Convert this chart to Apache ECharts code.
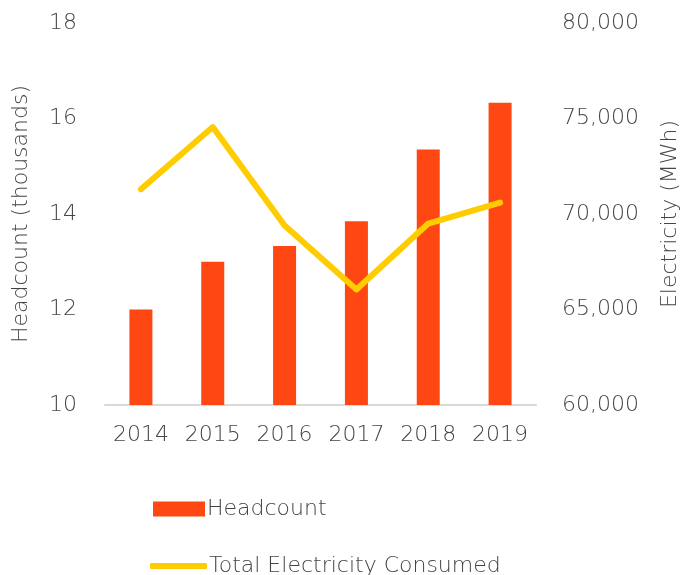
<!DOCTYPE html>
<html>
<head>
<meta charset="utf-8">
<script src="https://cdn.jsdelivr.net/npm/echarts@6/dist/echarts.min.js"></script>
<style>
  html, body { margin: 0; padding: 0; background: #fff; }
  #chart { width: 686px; height: 575px; }
</style>
</head>
<body>
<div id="chart"></div>
<script>
// chart data
var years = ['2014', '2015', '2016', '2017', '2018', '2019'];
var headcount = [12.0, 13.0, 13.33, 13.85, 15.35, 16.33];
var electricity = [71300, 74550, 69400, 66050, 69500, 70600];

var textColor = '#444444';
var fontFamily = 'DejaVu Sans';
var fontWeight = 200;

var chart = echarts.init(document.getElementById('chart'));

var option = {
    backgroundColor: '#fff',
    animation: false,
    textStyle: { fontFamily: fontFamily, color: textColor, fontWeight: fontWeight },
    grid: { left: 105, right: 150, top: 23, bottom: 170, outerBoundsMode: 'none' },
    legend: [
        {
            data: ['Headcount'],
            left: 148, top: 493,
            icon: 'rect',
            itemWidth: 52, itemHeight: 15,
            textStyle: { fontSize: 22, color: textColor, fontFamily: fontFamily, fontWeight: fontWeight, padding: [0, 0, 0, -3] }
        },
        {
            data: [{ name: 'Total Electricity Consumed', icon: 'roundRect' }],
            left: 145, top: 550,
            itemWidth: 57, itemHeight: 6,
            textStyle: { fontSize: 22, color: textColor, fontFamily: fontFamily, fontWeight: fontWeight, padding: [0, 0, 0, -3] }
        }
    ],
    xAxis: {
        type: 'category',
        data: years,
        axisLine: { lineStyle: { color: '#d9d9d9', width: 2 } },
        axisTick: { show: false },
        axisLabel: { interval: 0, fontSize: 22, color: textColor, fontWeight: fontWeight, margin: 19 }
    },
    yAxis: [
        {
            type: 'value',
            min: 10, max: 18, interval: 2,
            name: 'Headcount (thousands)',
            nameLocation: 'middle',
            nameGap: 73,
            nameTextStyle: { fontSize: 22, color: textColor, fontWeight: fontWeight },
            splitLine: { show: false },
            axisLine: { show: false },
            axisTick: { show: false },
            axisLabel: { fontSize: 22, color: textColor, fontWeight: fontWeight, margin: 28 }
        },
        {
            type: 'value',
            min: 60000, max: 80000, interval: 5000,
            name: 'Electricity (MWh)',
            nameLocation: 'middle',
            nameGap: 123,
            nameTextStyle: { fontSize: 22, color: textColor, fontWeight: fontWeight },
            splitLine: { show: false },
            axisLine: { show: false },
            axisTick: { show: false },
            axisLabel: {
                fontSize: 22, color: textColor, fontWeight: fontWeight, margin: 26,
                formatter: function (v) { return v.toLocaleString('en-US'); }
            }
        }
    ],
    series: [
        {
            name: 'Headcount',
            type: 'bar',
            yAxisIndex: 0,
            data: headcount,
            barWidth: 23,
            itemStyle: { color: '#ff4713' }
        },
        {
            name: 'Total Electricity Consumed',
            type: 'line',
            yAxisIndex: 1,
            data: electricity,
            symbol: 'none',
            lineStyle: { color: '#ffcc00', width: 6, cap: 'round', join: 'round' },
            itemStyle: { color: '#ffcc00' }
        }
    ]
};

chart.setOption(option);
</script>
</body>
</html>
